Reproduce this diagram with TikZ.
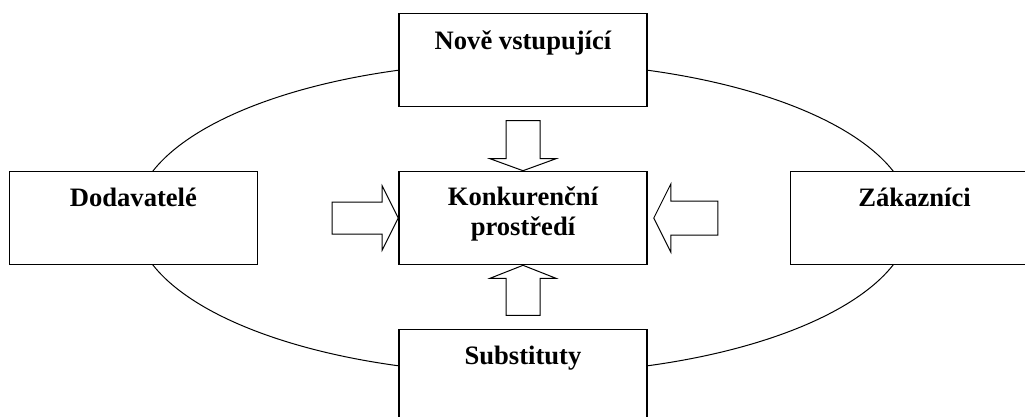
\documentclass[tikz,border=0pt]{standalone}
\usepackage{fontspec}
\setmainfont{Liberation Serif}
\usetikzlibrary{positioning}

\begin{document}
\begin{tikzpicture}[x=1pt, y=-1pt,
    every node/.style={font=\bfseries\fontsize{26.6}{30}\selectfont},
    box/.style={draw, fill=white, line width=1.6pt, minimum width=248pt,
        minimum height=93pt, inner sep=0pt},
    boxtext/.style={anchor=base, align=center},
    blockarrow/.style={draw, fill=white, line width=1pt, line join=miter}]
    \useasboundingbox (0,0) rectangle (1025,416);
    \clip (0,0) rectangle (1025,416);

    \draw[line width=1pt] (523,218) ellipse [x radius=388, y radius=156];

    \node[box] (konk) at (523,218) {};
    \node[box, above=63.5pt of konk] (nove) {};
    \node[box, below=63.5pt of konk] (subst) {};
    \node[box, left=140pt of konk] (dodav) {};
    \node[box, right=142pt of konk] (zakaz) {};

    % block arrows into the centre box
    \draw[blockarrow, shift={(konk.north)}] (0,0) -- (-33,-12) -- (-17,-12) -- (-17,-50)
        -- (17,-50) -- (17,-12) -- (33,-12) -- cycle;
    \draw[blockarrow, shift={(konk.south)}] (0,0) -- (-33,13) -- (-17,13) -- (-17,50)
        -- (17,50) -- (17,13) -- (33,13) -- cycle;
    \draw[blockarrow, shift={(konk.west)}] (0,0) -- (-16,-32) -- (-16,-16) -- (-66,-16)
        -- (-66,16) -- (-16,16) -- (-16,32) -- cycle;
    \draw[blockarrow, shift={([xshift=6pt]konk.east)}] (0,0) -- (17,-34) -- (17,-17) -- (64,-17)
        -- (64,17) -- (17,17) -- (17,34) -- cycle;

    \node[boxtext] (konktext) at ([yshift=-65pt]konk.north) {Konkurenční\\prostředí};
    \node[boxtext] (novetext) at ([yshift=-37pt]nove.north) {Nově vstupující};
    \node[boxtext] (substtext) at ([yshift=-36pt]subst.north) {Substituty};
    \node[boxtext] (dodavtext) at ([yshift=-36pt]dodav.north) {Dodavatelé};
    \node[boxtext] (zakaztext) at ([yshift=-36pt]zakaz.north) {Zákazníci};
\end{tikzpicture}
\end{document}
